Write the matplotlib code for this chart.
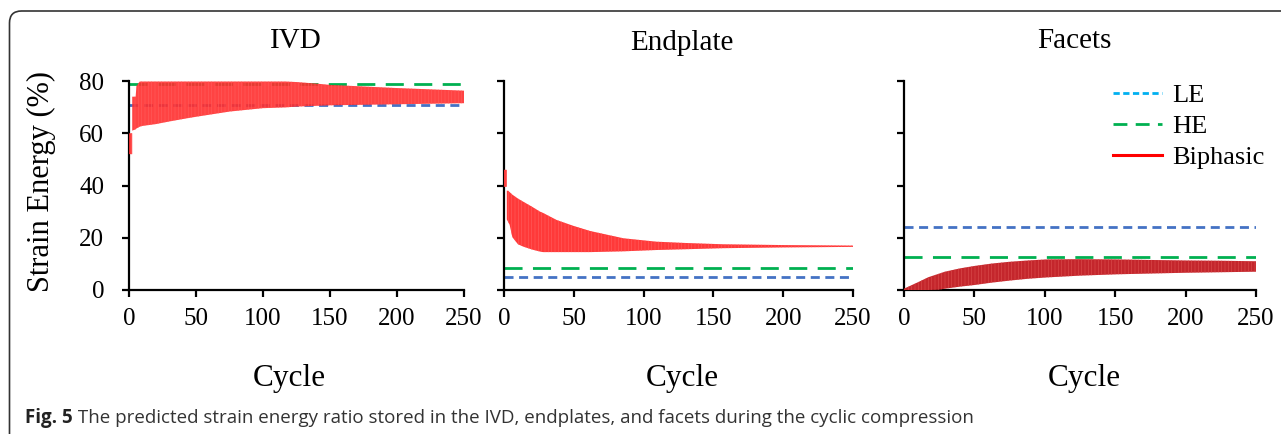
import matplotlib
matplotlib.use('Agg')
import matplotlib.pyplot as plt
from matplotlib.patches import FancyBboxPatch
from matplotlib.lines import Line2D
from matplotlib.transforms import IdentityTransform

W, H = 1281, 434
plt.rcParams['font.family'] = ['Liberation Serif', 'DejaVu Serif']
plt.rcParams['lines.scale_dashes'] = False
plt.rcParams['hatch.linewidth'] = 0.5

# ---------------- data ----------------
panel_titles = ['IVD', 'Endplate', 'Facets']
x_ticks = [0, 50, 100, 150, 200, 250]
y_ticks = [0, 20, 40, 60, 80]
x_label = 'Cycle'
y_label = 'Strain Energy (%)'
legend_labels = ['LE', 'HE', 'Biphasic']

# linear-elastic (LE) and hyper-elastic (HE) constant ratios
le_values = [70.8, 5.1, 24.2]
he_values = [79.0, 8.5, 12.75]

# biphasic: envelope (min / max) of the oscillating strain-energy ratio
ivd_cycle = [0, 2.4, 2.4, 5, 5.5, 8, 10, 20, 30, 43, 50, 75, 100, 117, 125, 140, 150, 175, 200, 225, 250]
ivd_upper = [60, 60, 74, 74, 78, 79.8, 79.8, 79.8, 79.8, 79.8, 79.8, 79.8, 79.8, 79.8, 79.6, 79.0, 78.5, 77.9, 77.3, 76.8, 76.3]
ivd_lower = [52, 52, 61, 61.5, 61.8, 62.5, 62.8, 63.5, 64.5, 65.7, 66.3, 68.3, 69.6, 69.9, 70.2, 70.5, 70.7, 70.9, 71.1, 71.3, 71.5]

end_cycle = [0, 2, 2, 3, 4, 6, 10, 13.8, 20, 25.8, 28, 37.7, 50, 61.6, 85.5, 109, 130, 157, 200, 250]
end_upper = [46, 46, 38, 38, 37.5, 36.5, 35, 33.8, 31.9, 30.0, 29.5, 26.8, 24.5, 22.6, 19.8, 18.5, 18.0, 17.5, 17.2, 17.0]
end_lower = [39.5, 39.5, 27, 26, 25.0, 20.2, 17.5, 16.6, 15.5, 14.7, 14.5, 14.5, 14.5, 14.5, 14.8, 15.3, 15.6, 16.0, 16.3, 16.5]

fac_cycle = [0, 10, 17.3, 24.6, 29, 40, 50, 62, 75, 88, 101, 125, 151, 175, 200, 225, 250]
fac_upper = [0.5, 3, 4.9, 6.2, 7.0, 8.3, 9.2, 10.1, 10.8, 11.3, 11.7, 11.8, 11.7, 11.5, 11.3, 11.2, 11.0]
fac_lower = [0, 0, 0, 0.1, 0.5, 1.3, 1.9, 2.8, 3.6, 4.3, 4.8, 5.5, 6.0, 6.3, 6.6, 6.8, 7.0]

caption_bold = 'Fig. 5'
caption_text = 'The predicted strain energy ratio stored in the IVD, endplates, and facets during the cyclic compression'

# ---------------- styles ----------------
le_color = '#4472C4'
he_color = '#00B050'
le_leg_color = '#00B0F0'
red_colors = ['#FF2E2E', '#FF2E2E', '#C4262C']
red_alpha = [0.9, 0.95, 1.0]
hatch_colors = ['#FF5A5A', '#FF5A5A', '#D84848']
le_dash = (0, (6.5, 4.0))
he_dash = (0, (13.0, 7.5))

fig = plt.figure(figsize=(W / 100, H / 100), dpi=100)


def box(l, t, r, b):
    return [l / W, 1 - b / H, (r - l) / W, (b - t) / H]


axes_px = [(129, 81, 464, 290), (504, 81, 853, 290), (904, 81, 1256, 290)]
biphasic = [(ivd_cycle, ivd_lower, ivd_upper),
            (end_cycle, end_lower, end_upper),
            (fac_cycle, fac_lower, fac_upper)]
title_pos = [(296, 48), (682, 50), (1074, 48)]
cycle_pos = [289, 682, 1084]

axes = []
for i, px in enumerate(axes_px):
    ax = fig.add_axes(box(*px))
    axes.append(ax)
    ax.set_xlim(0, 250)
    ax.set_ylim(0, 80)
    ax.set_xticks(x_ticks)
    ax.set_yticks(y_ticks)
    for s in ['top', 'right']:
        ax.spines[s].set_visible(False)
    for s in ['left', 'bottom']:
        ax.spines[s].set_linewidth(1.6)
        ax.spines[s].set_color('black')
    ax.tick_params(direction='out', length=5.3, width=1.6, labelsize=18, colors='black')
    ax.tick_params(axis='x', pad=8.0)
    ax.tick_params(axis='y', pad=12.5)
    if i > 0:
        ax.tick_params(axis='y', labelleft=False)
    ax.patch.set_alpha(0)

    ax.hlines(le_values[i], x_ticks[0], x_ticks[-1], colors=le_color, linewidth=2.0,
              linestyles=[le_dash], zorder=2)
    ax.hlines(he_values[i], x_ticks[0], x_ticks[-1], colors=he_color, linewidth=2.0,
              linestyles=[he_dash], zorder=2)
    c, lo, up = biphasic[i]
    ax.fill_between(c, lo, up, facecolor=red_colors[i], alpha=red_alpha[i],
                    edgecolor=hatch_colors[i], hatch='|||||', linewidth=0, zorder=3)

    fig.text(title_pos[i][0] / W, 1 - title_pos[i][1] / H, panel_titles[i],
             ha='center', va='baseline', fontsize=21)
    fig.text(cycle_pos[i] / W, 1 - 386 / H, x_label, ha='center', va='baseline', fontsize=22.5)

fig.text(41 / W, 1 - 182 / H, y_label, rotation=90, ha='center', va='center', fontsize=22)

handles = [Line2D([], [], color=le_leg_color, lw=2.0, ls=(0, (4.5, 2.5))),
           Line2D([], [], color=he_color, lw=2.0, ls=(0, (10.0, 6.0))),
           Line2D([], [], color='#FF0000', lw=2.2)]
axes[2].legend(handles, legend_labels, loc='upper left', bbox_to_anchor=(1113 / W, 1 - 84 / H),
               bbox_transform=fig.transFigure, frameon=False, fontsize=19,
               handlelength=1.85, handletextpad=0.4, labelspacing=0.28,
               borderpad=0, borderaxespad=0)

# outer rounded frame
frame = FancyBboxPatch((9.5, -30), 1320, 434 - 11 + 30, boxstyle='round,pad=0,rounding_size=12',
                       transform=IdentityTransform(), facecolor='none', edgecolor='#333333',
                       linewidth=1.2, clip_on=False)
fig.patches.append(frame)

# caption, sized so that it spans the same width as the original
renderer = fig.canvas.get_renderer()
cap_family = ['Open Sans', 'DejaVu Sans']
fs = 13.0
t1 = fig.text(25 / W, 1 - 423 / H, caption_bold, fontweight='bold', family=cap_family,
              fontsize=fs, va='baseline', color='#222222')
t2 = fig.text(0, 1 - 423 / H, ' ' + caption_text, family=cap_family,
              fontsize=fs, va='baseline', color='#333333')
w1 = t1.get_window_extent(renderer).width
w2 = t2.get_window_extent(renderer).width
scale = 945.0 / (w1 + w2)
fs2 = fs * scale
t1.set_fontsize(fs2)
t2.set_fontsize(fs2)
w1 = t1.get_window_extent(renderer).width
t2.set_x((25 + w1) / W)

fig.savefig('out.png', dpi=100)
